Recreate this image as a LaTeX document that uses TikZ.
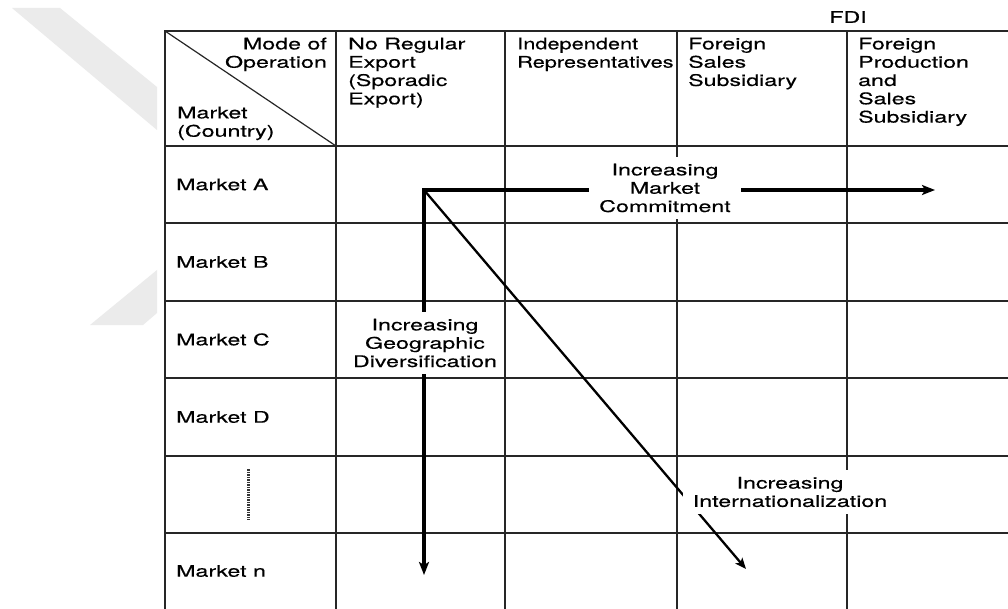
\documentclass[tikz,border=0pt]{standalone}
\usepackage{fontspec}
\setmainfont{TeX Gyre Heros}[FakeStretch=1.45,FakeBold=0.4]
\newfontfamily\narrowfont{TeX Gyre Heros}[FakeStretch=1.36,FakeBold=0.4]
\usetikzlibrary{arrows.meta,positioning}

\begin{document}
\begin{tikzpicture}[
  x=1pt,y=-1pt,
  font=\fontsize{16}{18.3}\selectfont,
  grid/.style={line width=1.2pt,black!85},
  head/.style={anchor=north west,align=left,inner sep=0pt},
  mkt/.style={anchor=west,inner sep=0pt},
  tag/.style={fill=white,align=center,inner xsep=10pt,inner ysep=7pt},
  arr/.style={{Stealth[length=13pt,width=10pt,inset=3pt]}-{Stealth[length=13pt,width=10pt,inset=3pt]},line width=4pt,line join=miter},
  diag/.style={-{Stealth[length=11pt,width=9pt,inset=2.5pt]},line width=2.3pt},
  ellip/.style={line width=3pt,black!80,dash pattern=on 1.6pt off 0.9pt}
]
\useasboundingbox[fill=white] (0,0) rectangle (1008,609);
% watermark
\fill[black!8] (12,8) -- (60,8) -- (157,87) -- (157,130) -- cycle;
\fill[black!8] (90,325) -- (143,325) -- (157,313) -- (157,270) -- cycle;

% table
\draw[grid] (165,609) -- (165,31) -- (1008,31);
\draw[grid] (165,146) -- (1008,146);
\draw[grid] (165,223) -- (1008,223);
\draw[grid] (165,301) -- (1008,301);
\draw[grid] (165,378) -- (1008,378);
\draw[grid] (165,456) -- (1008,456);
\draw[grid] (165,533) -- (1008,533);
\draw[grid] (336,31) -- (336,609);
\draw[grid] (505,31) -- (505,609);
\draw[grid] (677,31) -- (677,609);
\draw[grid] (847,31) -- (847,609);
\draw[grid] (165,31) -- (336,146);

\node[inner sep=0pt] (fdi) at (848,17) {FDI};
\node[head,anchor=north east,align=right] (mode) at (327,37.5) {Mode of\\Operation};
\node[head] (market) at (177,106.5) {Market\\(Country)};
\node[head] (noexp) at (348,37.5) {No Regular\\Export\\(Sporadic\\Export)};
\node[head,font=\narrowfont\fontsize{16}{18.3}\selectfont] (indep) at (517,37.5) {Independent\\Representatives};
\node[head] (sales) at (688,37.5) {Foreign\\Sales\\Subsidiary};
\node[head] (prod) at (858,37.5) {Foreign\\Production\\and\\Sales\\Subsidiary};

\node[mkt] (mA) at (176,184.5) {Market A};
\node[mkt] (mB) at (176,262) {Market B};
\node[mkt] (mC) at (176,339.5) {Market C};
\node[mkt] (mD) at (176,417) {Market D};
\node[mkt] (mN) at (176,571) {Market n};
\coordinate (dtop) at (248,469);
\coordinate (dbot) at (248,520);
\draw[ellip] (dtop) -- (dbot);

% arrows
\coordinate (origin) at (424,190);
\coordinate (tipH) at (935,190);
\coordinate (tipV) at (424,575);
\coordinate (tipD) at (746,569);
\draw[arr] (tipV) -- (origin) -- (tipH);
\draw[diag] (origin) -- (tipD);

\node[tag] (commit) at (665,188) {Increasing\\Market\\Commitment};
\node[tag,inner xsep=5pt] (geo) at (425,343) {Increasing\\Geographic\\Diversification};
\node[tag] (intl) at (790,492) {Increasing\\Internationalization};
\end{tikzpicture}
\end{document}
